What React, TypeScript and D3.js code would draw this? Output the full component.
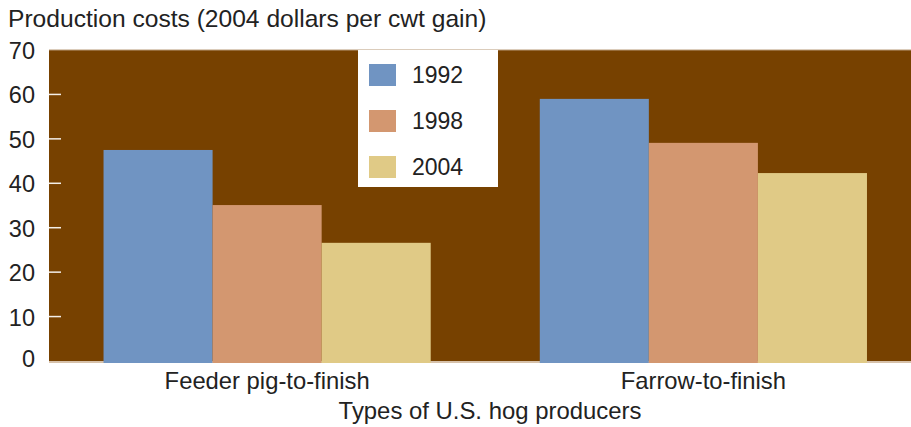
import React from 'react';
import * as d3 from 'd3';

const categories = ['Feeder pig-to-finish', 'Farrow-to-finish'];
const years = ['1992', '1998', '2004'];
const values1992 = [47.5, 59.0];
const values1998 = [35.1, 49.1];
const values2004 = [26.6, 42.3];
const yTicks = [0, 10, 20, 30, 40, 50, 60, 70];
const seriesColors = ['#7094c2', '#d39770', '#e0ca86'];

const width = 911,
      height = 427;
const plotLeft = 49,
      plotRight = 921.5,   // plot runs a bit past the right edge of the picture
      plotTop = 50,
      plotBottom = 361;
const font = '"Liberation Sans", Arial, sans-serif';

const App = () => {
    const series = [values1992, values1998, values2004];

    const x0 = d3.scaleBand()
        .domain(categories)
        .range([plotLeft, plotRight])
        .paddingInner(0.25)
        .paddingOuter(0.125);

    const x1 = d3.scaleBand()
        .domain(years)
        .range([0, x0.bandwidth()]);

    const y = d3.scaleLinear()
        .domain([0, 70])
        .range([plotBottom, plotTop]);

    const legendX = 358, legendY = 50;

    return (
        <svg width={width} height={height}
            style={{ position: 'absolute', left: 0, top: 0, fontFamily: font }}>
            <text x={8} y={27} fontSize={24.6} fill="#222">
                Production costs (2004 dollars per cwt gain)
            </text>

            {/* plot background */}
            <rect x={plotLeft} y={plotTop} width={width - plotLeft} height={plotBottom - plotTop} fill="#774100" />
            <line x1={plotLeft} x2={width} y1={plotTop} y2={plotTop} stroke="#b89a78" strokeWidth={1.2} />
            <line x1={plotLeft} x2={width} y1={plotBottom + 1} y2={plotBottom + 1} stroke="#c9ad8e" strokeWidth={1.5} />

            {/* y ticks */}
            {yTicks.map(t => (
                <g key={t}>
                    {t > 0 && t < 70 &&
                        <line x1={plotLeft} x2={plotLeft + 12} y1={y(t)} y2={y(t)} stroke="#f4efe9" strokeWidth={1.5} />}
                    <text x={35} y={y(t) + (t === 0 ? -2 : 1)} textAnchor="end" dominantBaseline="central"
                        fontSize={23.5} fill="#222">{t}</text>
                </g>
            ))}

            {/* bars */}
            {categories.map((c, ci) => (
                <g key={c} transform={`translate(${x0(c)},0)`}>
                    {years.map((yr, si) => (
                        <rect key={yr}
                            x={x1(yr)}
                            y={y(series[si][ci])}
                            width={x1.bandwidth()}
                            height={y(0) - y(series[si][ci]) + 2}
                            fill={seriesColors[si]} />
                    ))}
                    <text x={x0.bandwidth() / 2} y={389} textAnchor="middle" fontSize={23.8} fill="#222">{c}</text>
                </g>
            ))}

            {/* legend */}
            <rect x={legendX} y={legendY} width={140} height={137} fill="#fff" />
            {years.map((yr, i) => (
                <g key={yr} transform={`translate(${legendX + 11},${legendY + 14 + i * 46})`}>
                    <rect width={27} height={22} fill={seriesColors[i]} />
                    <text x={43} y={11} dominantBaseline="central" fontSize={23} fill="#222">{yr}</text>
                </g>
            ))}

            <text x={490} y={419} textAnchor="middle" fontSize={23.9} fill="#222">
                Types of U.S. hog producers
            </text>
        </svg>
    );
};

export default App;
